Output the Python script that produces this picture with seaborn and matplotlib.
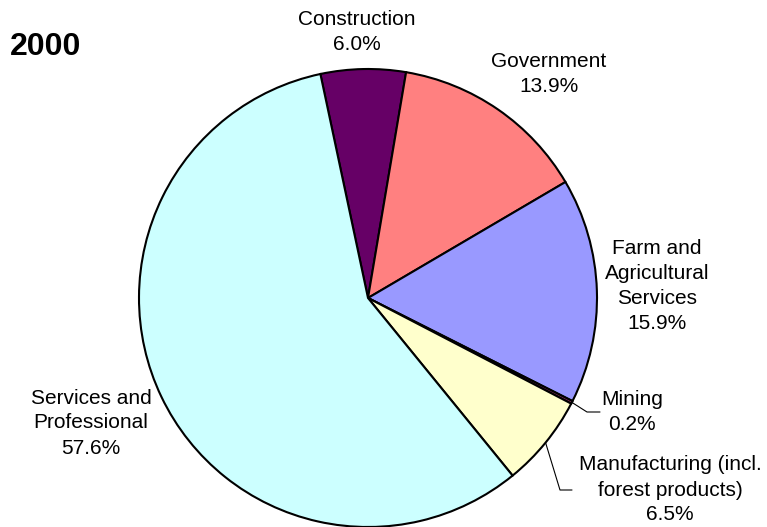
import numpy as np
import matplotlib
matplotlib.use("Agg")
import matplotlib.pyplot as plt
import seaborn as sns

sns.set_theme(style="white")
plt.rcParams["font.family"] = ["Liberation Sans", "DejaVu Sans"]

# Share of employment by sector, 2000 (%)
sectors = ["Construction", "Government", "Farm and\nAgricultural\nServices", "Mining",
           "Manufacturing (incl.\nforest products)", "Services and\nProfessional"]
shares = [6.0, 13.9, 15.9, 0.2, 6.5, 57.6]
colors = sns.color_palette(["#660066", "#FF8080", "#9999FF", "#993366", "#FFFFCC", "#CCFFFF"])

W, H = 767, 527
fig = plt.figure(figsize=(W / 100, H / 100), dpi=100)
ax = fig.add_axes([0, 0, 1, 1])

cx, cy, r = 368, 229, 229
wedges, _ = ax.pie(shares, colors=colors, startangle=102, counterclock=False,
                   center=(cx, cy), radius=r, frame=True,
                   wedgeprops=dict(edgecolor="black", linewidth=1.5))
ax.set_xlim(0, W)
ax.set_ylim(0, H)
ax.set_aspect("equal")
ax.axis("off")

# label anchor positions (pixels, y up)
label_pos = {
    0: (357, H - 32),
    1: (549, H - 74),
    2: (657, H - 286),
    3: (632, H - 412),
    4: (670, H - 490),
    5: (91, H - 423),
}
for i, w in enumerate(wedges):
    x, y = label_pos[i]
    ax.text(x, y, f"{sectors[i]}\n{shares[i]:.1f}%", ha="center", va="center",
            fontsize=15, linespacing=1.4, color="black")

# leader lines for the narrow slices on the right
def edge_point(w):
    mid = np.deg2rad((w.theta1 + w.theta2) / 2)
    return cx + r * np.cos(mid), cy + r * np.sin(mid)

x0, y0 = edge_point(wedges[3])
ax.plot([x0, 587, 600], [y0, H - 412, H - 412], color="black", lw=0.8)
x0, y0 = edge_point(wedges[4])
ax.plot([x0, 560, 572], [y0, H - 490, H - 490], color="black", lw=0.8)

fig.text(46 / W, 1 - 47 / H, "2000", ha="center", va="center",
         fontsize=23, fontweight="bold", color="black")

fig.savefig("out.png", dpi=100)
